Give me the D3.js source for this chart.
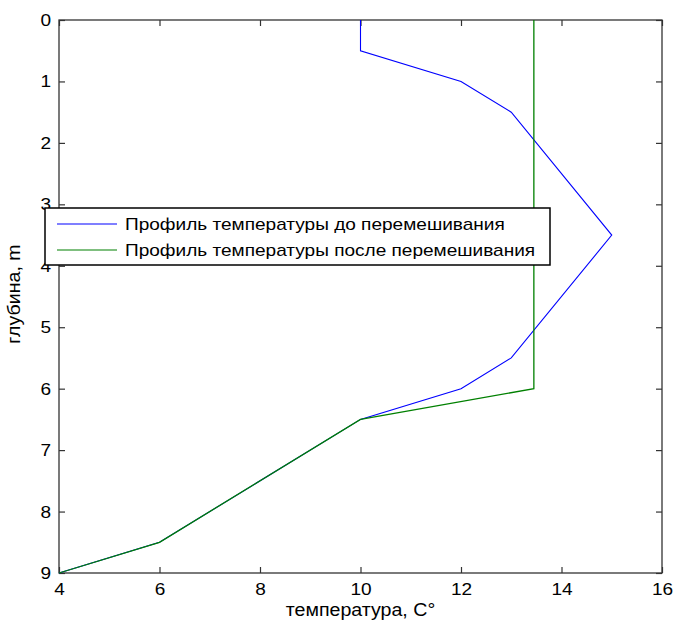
<!DOCTYPE html>
<html>
<head>
<meta charset="utf-8">
<script src="https://cdn.jsdelivr.net/npm/d3@7"></script>
<style>
  body { margin: 0; background: #fff; }
  text { font-family: "Liberation Sans", Arial, sans-serif; }
</style>
</head>
<body>
<div id="chart"></div>
<script>
// profile before mixing
var depthBefore = [0, 0.5, 1, 1.5, 3.5, 5.5, 6, 6.5, 8.5, 9];
var tempBefore  = [10, 10, 12, 13, 15, 13, 12, 10, 6, 4];
// profile after mixing
var depthAfter = [0, 6, 6.5, 8.5, 9];
var tempAfter  = [13.45, 13.45, 10, 6, 4];

var xTicks = [4, 6, 8, 10, 12, 14, 16];
var yTicks = [0, 1, 2, 3, 4, 5, 6, 7, 8, 9];
var seriesNames = ["Профиль температуры до перемешивания", "Профиль температуры после перемешивания"];
var seriesColors = ["#0000ff", "#008000"];

var width = 675, height = 624;
var margin = {top: 20, right: 13, bottom: 51, left: 59};
var w = width - margin.left - margin.right,
    h = height - margin.top - margin.bottom;

// the source picture's text is a bit wider than Arial, stretch it
var stretch = 1.12;
function widen(sel) {
    sel.each(function () {
        var len = this.getComputedTextLength();
        d3.select(this)
            .attr("textLength", len * stretch)
            .attr("lengthAdjust", "spacingAndGlyphs");
    });
}

var svg = d3.select("#chart").append("svg")
    .attr("width", width)
    .attr("height", height);

var g = svg.append("g")
    .attr("transform", "translate(" + margin.left + "," + margin.top + ")");

var x = d3.scaleLinear().domain([4, 16]).range([0, w]);
var y = d3.scaleLinear().domain([0, 9]).range([0, h]);

var axisColor = "#333";
var tick = 6;

// ticks on all four sides, pointing inward
g.append("g").attr("transform", "translate(0," + h + ")")
    .call(d3.axisBottom(x).tickValues(xTicks).tickSize(-tick).tickPadding(10))
    .call(function (a) { a.select(".domain").remove(); });
g.append("g")
    .call(d3.axisTop(x).tickValues(xTicks).tickSize(-tick).tickFormat(""))
    .call(function (a) { a.select(".domain").remove(); });
g.append("g")
    .call(d3.axisLeft(y).tickValues(yTicks).tickSize(-tick).tickPadding(8))
    .call(function (a) { a.select(".domain").remove(); });
g.append("g").attr("transform", "translate(" + w + ",0)")
    .call(d3.axisRight(y).tickValues(yTicks).tickSize(-tick).tickFormat(""))
    .call(function (a) { a.select(".domain").remove(); });

g.selectAll(".tick line").attr("stroke", axisColor).attr("stroke-width", 1.2);
g.selectAll(".tick text")
    .attr("fill", "#000")
    .style("font-size", "17px")
    .call(widen);

g.append("rect")
    .attr("width", w).attr("height", h)
    .attr("fill", "none")
    .attr("stroke", axisColor)
    .attr("stroke-width", 1.3);

var line = d3.line()
    .x(function (d) { return x(d[0]); })
    .y(function (d) { return y(d[1]); });

var before = d3.zip(tempBefore, depthBefore);
var after = d3.zip(tempAfter, depthAfter);

g.append("path").datum(before)
    .attr("d", line)
    .attr("fill", "none")
    .attr("stroke", seriesColors[0])
    .attr("stroke-width", 1.1);
g.append("path").datum(after)
    .attr("d", line)
    .attr("fill", "none")
    .attr("stroke", seriesColors[1])
    .attr("stroke-width", 1.3);

// axis labels
svg.append("text")
    .attr("x", margin.left + w / 2)
    .attr("y", 616)
    .attr("text-anchor", "middle")
    .style("font-size", "17.5px")
    .text("температура, С°")
    .call(widen);

svg.append("text")
    .attr("transform", "translate(20,294) rotate(-90)")
    .attr("text-anchor", "middle")
    .style("font-size", "17.5px")
    .text("глубина, m")
    .call(widen);

// legend
var legend = svg.append("g").attr("transform", "translate(45,208)");
legend.append("rect")
    .attr("width", 505).attr("height", 57)
    .attr("fill", "#fff")
    .attr("stroke", "#000")
    .attr("stroke-width", 1.5);

var items = legend.selectAll(".item")
    .data(seriesNames)
    .enter().append("g")
    .attr("class", "item")
    .attr("transform", function (d, i) { return "translate(0," + (16 + i * 26) + ")"; });

items.append("line")
    .attr("x1", 12).attr("x2", 72)
    .attr("stroke", function (d, i) { return seriesColors[i]; })
    .attr("stroke-width", 1.1);
items.append("text")
    .attr("x", 80)
    .attr("dy", "0.35em")
    .style("font-size", "17px")
    .text(function (d) { return d; })
    .call(widen);
</script>
</body>
</html>
